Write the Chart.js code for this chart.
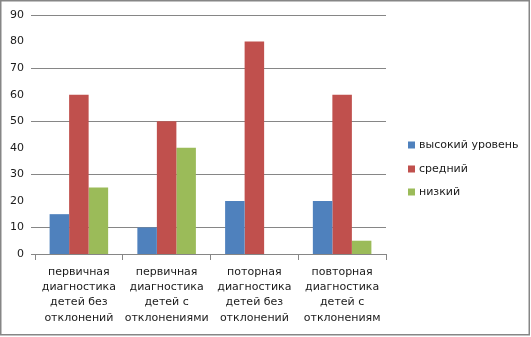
<!DOCTYPE html>
<html lang="ru">
  <head>
    <meta charset="UTF-8" />
    <title>Уровни диагностики</title>
    <script src="https://cdn.jsdelivr.net/npm/chart.js"></script>
    <style>
      body {
        margin: 0;
        background: #fff;
      }
      .chart-container {
        width: 531px;
        height: 337px;
      }
    </style>
  </head>
  <body>
    <div class="chart-container">
      <canvas id="levelsChart" width="531" height="337"></canvas>
    </div>

    <script>
      // data
      const categories = [
        ["первичная", "диагностика", "детей без", "отклонений"],
        ["первичная", "диагностика", "детей с", "отклонениями"],
        ["поторная", "диагностика", "детей без", "отклонений"],
        ["повторная", "диагностика", "детей с", "отклонениям"],
      ];
      const seriesNames = ["высокий уровень", "средний", "низкий"];
      const highValues = [15, 10, 20, 20];
      const midValues = [60, 50, 80, 60];
      const lowValues = [25, 40, 0, 5];
      const gridValues = [10, 30, 50, 70, 90];
      const colors = ["#4f81bd", "#c0504d", "#9bbb59"];

      const FONT = "DejaVu Sans";
      const TEXT = "#1a1a1a";
      const LINE = "#868686";

      // gridlines (every other step), legend and outer frame drawn by hand
      const frameAndLegend = {
        id: "frameAndLegend",
        beforeDatasetsDraw(chart) {
          const c = chart.ctx;
          const area = chart.chartArea;
          const y = chart.scales.y;
          c.save();
          c.strokeStyle = LINE;
          c.lineWidth = 1;
          gridValues.forEach(function (v) {
            const py = Math.round(y.getPixelForValue(v)) + 0.5;
            c.beginPath();
            c.moveTo(31, py);
            c.lineTo(area.right, py);
            c.stroke();
          });
          const by = Math.round(y.getPixelForValue(0)) + 0.5;
          c.beginPath();
          c.moveTo(31, by);
          c.lineTo(area.left, by);
          c.stroke();
          c.restore();
        },
        afterDraw(chart) {
          const c = chart.ctx;
          c.save();
          c.strokeStyle = LINE;
          c.lineWidth = 1.5;
          c.strokeRect(0.75, 0.75, 528.5, 334);

          c.font = "11px '" + FONT + "'";
          c.textBaseline = "middle";
          const ys = [145, 169, 192];
          chart.data.datasets.forEach(function (ds, i) {
            c.fillStyle = ds.backgroundColor;
            c.fillRect(408, ys[i] - 3.5, 7, 7);
            c.fillStyle = TEXT;
            c.fillText(ds.label, 419, ys[i]);
          });
          c.restore();
        },
      };

      const ctx = document.getElementById("levelsChart").getContext("2d");

      new Chart(ctx, {
        type: "bar",
        data: {
          labels: categories,
          datasets: [
            { label: seriesNames[0], data: highValues, backgroundColor: colors[0] },
            { label: seriesNames[1], data: midValues, backgroundColor: colors[1] },
            { label: seriesNames[2], data: lowValues, backgroundColor: colors[2] },
          ],
        },
        options: {
          responsive: false,
          animation: false,
          layout: {
            padding: { top: 15, left: 0, right: 145, bottom: 0 },
          },
          datasets: {
            bar: {
              categoryPercentage: 0.667,
              barPercentage: 1,
              borderWidth: 0,
            },
          },
          plugins: {
            legend: { display: false },
            tooltip: { enabled: false },
          },
          scales: {
            x: {
              offset: true,
              grid: {
                offset: true,
                drawOnChartArea: false,
                drawTicks: true,
                tickLength: 6,
                color: LINE,
              },
              border: { display: true, color: LINE, width: 1 },
              ticks: {
                color: TEXT,
                font: { family: FONT, size: 11, lineHeight: 1.4 },
                padding: 4,
                maxRotation: 0,
                autoSkip: false,
              },
              afterFit(scale) {
                scale.height = 83;
              },
            },
            y: {
              min: 0,
              max: 90,
              ticks: {
                stepSize: 10,
                color: TEXT,
                font: { family: FONT, size: 11 },
                padding: 11,
              },
              grid: { display: false, drawTicks: false },
              border: { display: false },
              afterFit(scale) {
                scale.width = 35;
                // tick padding should not push the plot down
                scale.paddingTop = 7;
                scale.paddingBottom = 7;
              },
            },
          },
        },
        plugins: [frameAndLegend],
      });
    </script>
  </body>
</html>
